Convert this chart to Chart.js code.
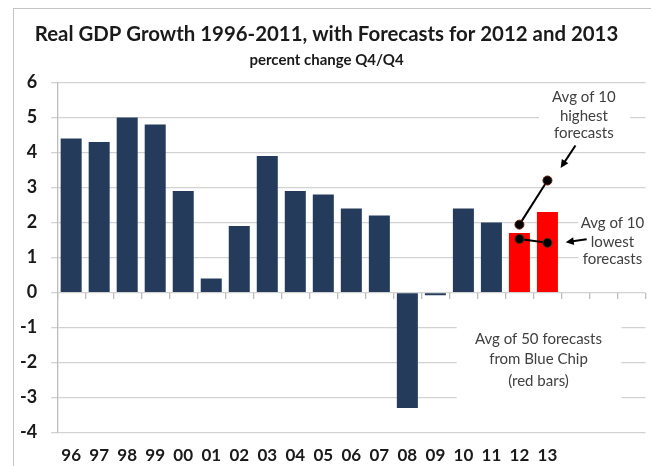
<!DOCTYPE html>
<html>
<head>
<meta charset="utf-8">
<script src="https://cdn.jsdelivr.net/npm/chart.js@4/dist/chart.umd.min.js"></script>
<style>
  html, body { margin: 0; padding: 0; background: #fff; }
  #wrap { position: relative; width: 651px; height: 466px; overflow: hidden; }
  #grafico { position: absolute; left: 0; top: 0; }
  #moldura { position: absolute; left: 13px; top: 8px; width: 700px; height: 520px; border: 1px solid #c4c4c4; pointer-events: none; }
</style>
</head>
<body>
<div id="wrap">
  <canvas id="grafico" width="651" height="466"></canvas>
  <div id="moldura"></div>
</div>
<script>
// Dados
const anos = ['96', '97', '98', '99', '00', '01', '02', '03', '04', '05', '06', '07', '08', '09', '10', '11', '12', '13', '', '', ''];
const pib = [4.4, 4.3, 5.0, 4.8, 2.9, 0.4, 1.9, 3.9, 2.9, 2.8, 2.4, 2.2, -3.3, -0.08, 2.4, 2.0, 1.7, 2.3, null, null, null];
const previsaoAlta = [null, null, null, null, null, null, null, null, null, null, null, null, null, null, null, null, 1.94, 3.2, null, null, null];
const previsaoBaixa = [null, null, null, null, null, null, null, null, null, null, null, null, null, null, null, null, 1.53, 1.42, null, null, null];
const anosPrevisao = ['12', '13'];
const yTicks = [-4, -3, -2, -1, 0, 1, 2, 3, 4, 5, 6];

const fonte = 'Lato, "Open Sans", sans-serif';
const corGrade = '#d2d2d2';
const coresBarras = anos.map(a => anosPrevisao.includes(a) ? '#ff0000' : '#243b5c');

// Anotações (posições em unidades do gráfico: índice de categoria, valor)
const notas = [
  { caixa: [16.7, 19.96, 5.84, 4.28], cx: 18.3, linhas: [['Avg of 10', 5.58], ['highest', 5.04], ['forecasts', 4.54]] },
  { caixa: [18.1, 20.7, 2.27, 0.71], cx: 19.32, linhas: [['Avg of 10', 1.99], ['lowest', 1.44], ['forecasts', 0.94]] },
  { caixa: [13.76, 19.64, -0.79, -3.25], cx: 16.68, linhas: [['Avg of 50 forecasts', -1.33], ['from Blue Chip', -1.91], ['(red bars)', -2.52]] }
];
const setas = [
  [18.0, 4.2, 17.47, 3.56],
  [18.4, 1.52, 17.65, 1.44]
];

const pluginNotas = {
  id: 'notas',
  afterDatasetsDraw(chart) {
    const c = chart.ctx, sx = chart.scales.x, sy = chart.scales.y;
    c.save();
    notas.forEach(n => {
      const x0 = sx.getPixelForValue(n.caixa[0]), x1 = sx.getPixelForValue(n.caixa[1]);
      const y0 = sy.getPixelForValue(n.caixa[2]), y1 = sy.getPixelForValue(n.caixa[3]);
      c.fillStyle = '#fff';
      c.fillRect(x0, y0, x1 - x0, y1 - y0);
      c.fillStyle = '#404040';
      c.font = '15px ' + fonte;
      c.textAlign = 'center';
      c.textBaseline = 'middle';
      n.linhas.forEach(l => c.fillText(l[0], sx.getPixelForValue(n.cx), sy.getPixelForValue(l[1])));
    });
    c.strokeStyle = '#000';
    c.fillStyle = '#000';
    c.lineWidth = 2;
    setas.forEach(s => {
      const ax = sx.getPixelForValue(s[0]), ay = sy.getPixelForValue(s[1]);
      const bx = sx.getPixelForValue(s[2]), by = sy.getPixelForValue(s[3]);
      const ang = Math.atan2(by - ay, bx - ax);
      const ex = bx - 7 * Math.cos(ang), ey = by - 7 * Math.sin(ang);
      c.beginPath(); c.moveTo(ax, ay); c.lineTo(ex, ey); c.stroke();
      c.beginPath();
      c.moveTo(bx, by);
      c.lineTo(bx - 9 * Math.cos(ang - 0.45), by - 9 * Math.sin(ang - 0.45));
      c.lineTo(bx - 9 * Math.cos(ang + 0.45), by - 9 * Math.sin(ang + 0.45));
      c.closePath(); c.fill();
    });
    c.restore();
  }
};

const ctx = document.getElementById('grafico').getContext('2d');
const grafico = new Chart(ctx, {
  type: 'bar',
  data: {
    labels: anos,
    datasets: [
      {
        type: 'line',
        label: 'Avg of 10 highest',
        data: previsaoAlta,
        borderColor: '#000',
        borderWidth: 2,
        pointRadius: 4.5,
        pointBackgroundColor: '#000',
        pointBorderColor: '#6b1a00',
        pointBorderWidth: 1,
        order: 0
      },
      {
        type: 'line',
        label: 'Avg of 10 lowest',
        data: previsaoBaixa,
        borderColor: '#000',
        borderWidth: 2,
        pointRadius: 4.5,
        pointBackgroundColor: '#000',
        pointBorderColor: '#3a3a00',
        pointBorderWidth: 1,
        order: 0
      },
      {
        label: 'Real GDP Growth',
        data: pib,
        backgroundColor: coresBarras,
        borderWidth: 0,
        categoryPercentage: 1.0,
        barPercentage: 0.75,
        order: 1
      }
    ]
  },
  options: {
    responsive: false,
    animation: false,
    layout: { padding: { left: 6, right: 4, top: 0, bottom: -13 } },
    scales: {
      y: {
        min: -4,
        max: 6,
        afterBuildTicks: axis => { axis.ticks = yTicks.map(v => ({ value: v })); },
        ticks: {
          color: '#1a1a1a',
          padding: 14,
          font: { family: fonte, size: 18, weight: 'bold' }
        },
        grid: {
          color: corGrade,
          lineWidth: 1.3,
          tickLength: 6
        },
        border: { display: true, color: '#bdbdbd', width: 1.3 }
      },
      x: {
        grid: { display: false, drawTicks: false },
        border: { display: false },
        ticks: {
          color: '#1a1a1a',
          padding: 13,
          maxRotation: 0,
          autoSkip: false,
          font: { family: fonte, size: 17, weight: 'bold' }
        }
      },
      xZero: {
        type: 'category',
        position: { y: 0 },
        offset: true,
        grid: {
          drawOnChartArea: false,
          drawTicks: true,
          tickLength: 6,
          color: '#bdbdbd',
          lineWidth: 1.3,
          offset: true
        },
        border: { display: false },
        ticks: { display: false }
      }
    },
    plugins: {
      legend: { display: false },
      tooltip: { enabled: false },
      title: {
        display: true,
        text: 'Real GDP Growth 1996-2011, with Forecasts for 2012 and 2013',
        color: '#1a1a1a',
        font: { family: fonte, size: 20.4, weight: 'bold' },
        padding: { top: 22, bottom: 3 }
      },
      subtitle: {
        display: true,
        text: 'percent change Q4/Q4',
        color: '#1a1a1a',
        font: { family: fonte, size: 15, weight: 'bold' },
        padding: { top: 2, bottom: 13 }
      }
    }
  },
  plugins: [pluginNotas]
});
</script>
</body>
</html>
